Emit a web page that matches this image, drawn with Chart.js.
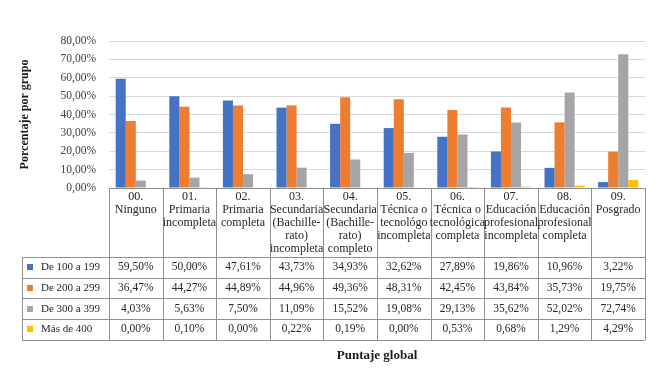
<!DOCTYPE html>
<html>
<head>
<meta charset="utf-8">
<script src="https://cdn.jsdelivr.net/npm/chart.js@4.4.0/dist/chart.umd.min.js"></script>
<style>
  html, body { margin: 0; padding: 0; background: #fff; }
  #wrap { width: 660px; height: 373px; }
</style>
</head>
<body>
<div id="wrap"><canvas id="chart" width="660" height="373"></canvas></div>
<script>
// categories (header cells of the table, one line per entry)
const categories = [
  ['00.', 'Ninguno'],
  ['01.', 'Primaria', 'incompleta'],
  ['02.', 'Primaria', 'completa'],
  ['03.', 'Secundaria', '(Bachille-', 'rato)', 'incompleta'],
  ['04.', 'Secundaria', '(Bachille-', 'rato)', 'completo'],
  ['05.', 'Técnica o', 'tecnológo', 'incompleta'],
  ['06.', 'Técnica o', 'tecnológica', 'completa'],
  ['07.', 'Educación', 'profesional', 'incompleta'],
  ['08.', 'Educación', 'profesional', 'completa'],
  ['09.', 'Posgrado']
];
const seriesNames = ['De 100 a 199', 'De 200 a 299', 'De 300 a 399', 'Más de 400'];
const de100 = [59.50, 50.00, 47.61, 43.73, 34.93, 32.62, 27.89, 19.86, 10.96, 3.22];
const de200 = [36.47, 44.27, 44.89, 44.96, 49.36, 48.31, 42.45, 43.84, 35.73, 19.75];
const de300 = [4.03, 5.63, 7.50, 11.09, 15.52, 19.08, 29.13, 35.62, 52.02, 72.74];
const mas400 = [0.00, 0.10, 0.00, 0.22, 0.19, 0.00, 0.53, 0.68, 1.29, 4.29];
const yTicks = [0, 10, 20, 30, 40, 50, 60, 70, 80];

const colors = ['#4472C4', '#ED7D31', '#A5A5A5', '#FFC000'];
const FONT = '"Liberation Serif", "DejaVu Serif", serif';
const pct = v => v.toFixed(2).replace('.', ',') + '%';

const allSeries = [de100, de200, de300, mas400];

// draws the data table under the bars, using the x scale for the columns
const tablePlugin = {
  id: 'dataTable',
  afterDraw(chart) {
    const ctx = chart.ctx;
    const xs = chart.scales.x;
    const area = chart.chartArea;
    const n = categories.length;
    const half = (xs.getPixelForValue(1) - xs.getPixelForValue(0)) / 2;
    const edges = categories.map((c, i) => xs.getPixelForValue(i) - half);
    edges.push(xs.getPixelForValue(n - 1) + half);

    const top = area.bottom;
    const headBottom = top + 69;
    const rowH = 20.7;
    const legLeft = 22;
    const tableBottom = headBottom + rowH * allSeries.length;
    const px = v => Math.round(v) + 0.5;

    ctx.save();
    ctx.strokeStyle = '#8f8f8f';
    ctx.lineWidth = 1;
    ctx.beginPath();
    // header top (axis line)
    ctx.moveTo(edges[0], px(top)); ctx.lineTo(edges[n], px(top));
    // vertical column lines
    edges.forEach(e => { ctx.moveTo(px(e), top); ctx.lineTo(px(e), tableBottom); });
    ctx.moveTo(px(legLeft), headBottom); ctx.lineTo(px(legLeft), tableBottom);
    // horizontal row lines
    for (let r = 0; r <= allSeries.length; r++) {
      const y = px(headBottom + rowH * r);
      ctx.moveTo(legLeft, y); ctx.lineTo(edges[n], y);
    }
    ctx.stroke();

    // header text
    ctx.fillStyle = '#262626';
    ctx.textAlign = 'center';
    ctx.textBaseline = 'middle';
    ctx.font = '12px ' + FONT;
    categories.forEach((lines, i) => {
      const cx = xs.getPixelForValue(i);
      lines.forEach((t, k) => ctx.fillText(t, cx, top + 9 + k * 13));
    });

    // rows
    allSeries.forEach((vals, r) => {
      const cy = headBottom + rowH * r + rowH / 2;
      ctx.fillStyle = colors[r];
      ctx.fillRect(27, Math.round(cy) - 3, 6, 6);
      ctx.fillStyle = '#262626';
      ctx.textAlign = 'left';
      ctx.font = '11px ' + FONT;
      ctx.fillText(seriesNames[r], 41, cy);
      ctx.textAlign = 'center';
      ctx.font = '11.5px ' + FONT;
      vals.forEach((v, i) => ctx.fillText(pct(v), xs.getPixelForValue(i), cy));
    });

    // x title
    ctx.font = 'bold 13px ' + FONT;
    ctx.fillStyle = '#1a1a1a';
    ctx.fillText('Puntaje global', (edges[0] + edges[n]) / 2, 356);
    ctx.restore();
  }
};

new Chart(document.getElementById('chart'), {
  type: 'bar',
  data: {
    labels: categories.map(c => c.join(' ')),
    datasets: allSeries.map((vals, i) => ({
      label: seriesNames[i],
      data: vals,
      backgroundColor: colors[i],
      borderWidth: 0,
      barPercentage: 1,
      categoryPercentage: 0.75
    }))
  },
  options: {
    responsive: false,
    animation: false,
    devicePixelRatio: 1,
    layout: { padding: { left: 0, right: 15, top: 41, bottom: 185 } },
    plugins: { legend: { display: false }, tooltip: { enabled: false } },
    scales: {
      x: { display: false },
      y: {
        min: 0,
        max: 80,
        afterBuildTicks: s => { s.ticks = yTicks.map(v => ({ value: v })); },
        afterFit: s => { s.width = 109; },
        border: { display: false },
        grid: { color: '#d9d9d9', drawTicks: false },
        ticks: {
          padding: 13,
          color: '#404040',
          font: { family: FONT, size: 11.5 },
          callback: v => pct(v)
        },
        title: {
          display: true,
          text: 'Porcentaje por grupo',
          color: '#1a1a1a',
          padding: { top: 18, bottom: 0 },
          font: { family: FONT, size: 12, weight: 'bold' }
        }
      }
    }
  },
  plugins: [tablePlugin]
});
</script>
</body>
</html>
